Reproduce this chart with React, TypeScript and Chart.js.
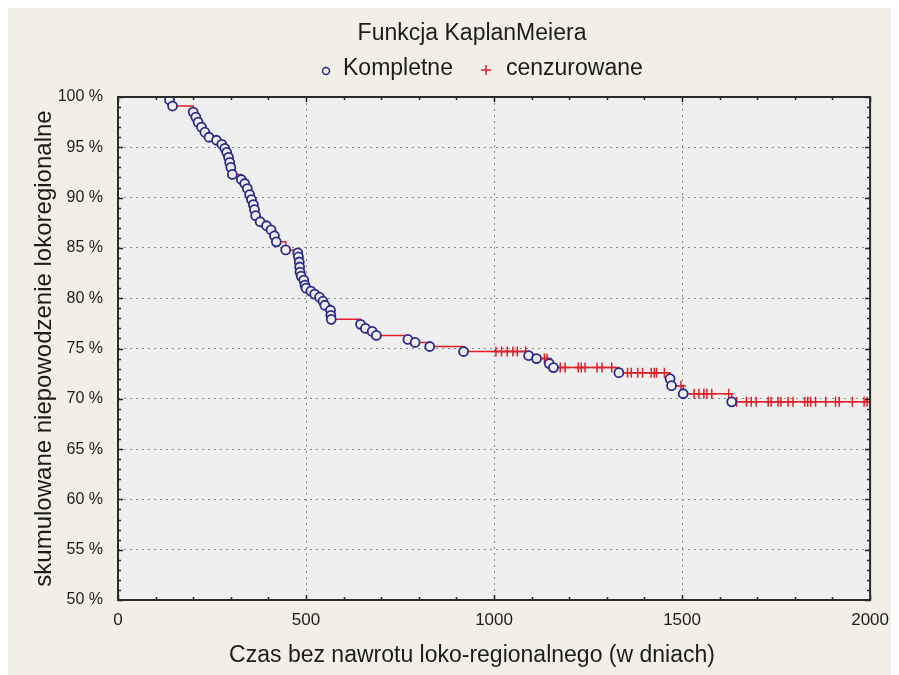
import React, { useEffect, useRef } from 'react';
import { Chart, registerables } from 'chart.js';

Chart.register(...registerables);

// Kaplan-Meier events (complete observations): time in days, cumulative proportion (%)
const eventTimes = [137, 145, 200, 207, 213, 222, 231, 242, 262, 276, 284, 289, 294, 297, 300, 304, 328, 337, 344, 350, 355, 360, 363, 366, 378, 395, 407, 416, 421, 446, 478, 480, 482, 483, 484, 487, 494, 497, 500, 513, 523, 536, 545, 550, 565, 566, 567, 645, 658, 676, 687, 771, 790, 829, 919, 1092, 1113, 1147, 1158, 1332, 1468, 1472, 1503, 1632];
const eventSurvival = [99.7, 99.1, 98.5, 98.0, 97.5, 97.0, 96.5, 96.0, 95.7, 95.3, 94.9, 94.5, 94.0, 93.5, 93.0, 92.3, 91.8, 91.4, 90.9, 90.3, 89.8, 89.3, 88.8, 88.2, 87.6, 87.2, 86.8, 86.2, 85.6, 84.8, 84.5, 84.1, 83.6, 83.1, 82.6, 82.2, 81.8, 81.3, 81.0, 80.7, 80.4, 80.1, 79.7, 79.3, 78.8, 78.3, 77.9, 77.4, 77.0, 76.7, 76.3, 75.9, 75.6, 75.2, 74.7, 74.3, 74.0, 73.5, 73.1, 72.6, 72.0, 71.3, 70.5, 69.7];

// Censored observations
const censoredTimes = [1005, 1020, 1035, 1050, 1062, 1084, 1134, 1141, 1176, 1189, 1224, 1232, 1242, 1274, 1287, 1313, 1355, 1365, 1382, 1395, 1418, 1426, 1432, 1453, 1497, 1532, 1545, 1558, 1566, 1579, 1624, 1645, 1671, 1684, 1697, 1729, 1737, 1755, 1763, 1782, 1795, 1826, 1834, 1842, 1855, 1882, 1908, 1918, 1953, 1984, 1992];
const censoredSurvival = [74.7, 74.7, 74.7, 74.7, 74.7, 74.7, 74.0, 74.0, 73.1, 73.1, 73.1, 73.1, 73.1, 73.1, 73.1, 73.1, 72.6, 72.6, 72.6, 72.6, 72.6, 72.6, 72.6, 72.6, 71.3, 70.5, 70.5, 70.5, 70.5, 70.5, 70.5, 69.7, 69.7, 69.7, 69.7, 69.7, 69.7, 69.7, 69.7, 69.7, 69.7, 69.7, 69.7, 69.7, 69.7, 69.7, 69.7, 69.7, 69.7, 69.7, 69.7];

const xMin = 0;
const xMax = 2000;
const xMajorStep = 500;
const xMinorStep = 100;
const yMin = 50;
const yMax = 100;
const yMajorStep = 5;
const yMinorStep = 1;

const titleText = 'Funkcja KaplanMeiera';
const legendComplete = 'Kompletne';
const legendCensored = 'cenzurowane';
const xTitle = 'Czas bez nawrotu loko-regionalnego (w dniach)';
const yTitle = 'skumulowane niepowodzenie lokoregionalne';

const FONT = "'Liberation Sans', Arial, sans-serif";
const TEXT = '#1c1c1c';
const NAVY = '#2b2a8c';
const RED = '#e1202a';
const PLOT_BG = '#efefef';
const OUTER_BG = '#f2efe6';

const decor = {
  id: 'decor',
  beforeDraw(chart: any) {
    const { ctx, chartArea: a } = chart;
    ctx.save();
    ctx.fillStyle = PLOT_BG;
    ctx.fillRect(a.left, a.top, a.right - a.left, a.bottom - a.top);
    ctx.restore();
  },
  afterDatasetsDraw(chart: any) {
    const { ctx, chartArea: a, scales } = chart;
    const xs = scales.x;
    const ys = scales.y;
    ctx.save();
    ctx.strokeStyle = '#222';
    ctx.lineWidth = 1.5;
    ctx.beginPath();
    for (let v = xMin; v <= xMax; v += xMinorStep) {
      const px = Math.round(xs.getPixelForValue(v)) + 0.5;
      const len = v % xMajorStep === 0 ? 5 : 3;
      ctx.moveTo(px, a.bottom);
      ctx.lineTo(px, a.bottom - len);
      ctx.moveTo(px, a.top);
      ctx.lineTo(px, a.top + len);
    }
    for (let v = yMin; v <= yMax; v += yMinorStep) {
      const py = Math.round(ys.getPixelForValue(v)) + 0.5;
      const len = v % yMajorStep === 0 ? 5 : 3;
      ctx.moveTo(a.left, py);
      ctx.lineTo(a.left + len, py);
      ctx.moveTo(a.right, py);
      ctx.lineTo(a.right - len, py);
    }
    ctx.stroke();
    ctx.lineWidth = 2;
    ctx.strokeStyle = '#2a2a2a';
    ctx.strokeRect(a.left, a.top, a.right - a.left, a.bottom - a.top);
    ctx.restore();
  },
  afterDraw(chart: any) {
    const { ctx } = chart;
    ctx.save();
    ctx.fillStyle = TEXT;
    ctx.textBaseline = 'middle';
    ctx.font = `23px ${FONT}`;
    ctx.textAlign = 'center';
    ctx.fillText(titleText, 464, 26);
    ctx.fillText(xTitle, 464, 648);
    // legend
    ctx.textAlign = 'left';
    ctx.fillText(legendComplete, 335, 61);
    ctx.fillText(legendCensored, 498, 61);
    ctx.strokeStyle = NAVY;
    ctx.lineWidth = 1.5;
    ctx.beginPath();
    ctx.arc(318, 63, 3.5, 0, Math.PI * 2);
    ctx.stroke();
    ctx.strokeStyle = RED;
    ctx.beginPath();
    ctx.moveTo(473, 62);
    ctx.lineTo(483, 62);
    ctx.moveTo(478, 57);
    ctx.lineTo(478, 67);
    ctx.stroke();
    ctx.restore();
  },
};

export default function App() {
  const ref = useRef<HTMLCanvasElement | null>(null);

  useEffect(() => {
    const canvas = ref.current;
    if (!canvas) return;

    const eventPts = eventTimes.map((t, i) => ({ x: t, y: eventSurvival[i] }));
    const censPts = censoredTimes.map((t, i) => ({ x: t, y: censoredSurvival[i] }));
    const linePts = [
      { x: xMin, y: yMax },
      ...eventPts,
      { x: xMax, y: eventSurvival[eventSurvival.length - 1] },
    ];

    const chart = new Chart(canvas, {
      type: 'scatter',
      data: {
        datasets: [
          {
            label: legendComplete,
            data: eventPts,
            pointStyle: 'circle',
            pointRadius: 4.5,
            pointBorderWidth: 1.8,
            pointBorderColor: NAVY,
            pointBackgroundColor: PLOT_BG,
            showLine: false,
            order: 0,
          },
          {
            label: legendCensored,
            data: censPts,
            pointStyle: 'cross',
            pointRadius: 5,
            pointBorderWidth: 1.5,
            pointBorderColor: RED,
            pointBackgroundColor: RED,
            showLine: false,
            order: 1,
          },
          {
            label: 'KM',
            data: linePts,
            showLine: true,
            stepped: 'before',
            borderColor: RED,
            borderWidth: 1.5,
            pointRadius: 0,
            fill: false,
            order: 2,
          } as any,
        ],
      },
      options: {
        responsive: false,
        animation: false,
        events: [],
        layout: { padding: { left: 0, top: 89, right: 21, bottom: 0 } },
        plugins: {
          legend: { display: false },
          title: { display: false },
          tooltip: { enabled: false },
        },
        scales: {
          x: {
            type: 'linear',
            min: xMin,
            max: xMax,
            afterFit: (s: any) => {
              s.height = 75;
            },
            ticks: {
              stepSize: xMajorStep,
              font: { family: FONT, size: 17 },
              color: TEXT,
              padding: 10,
              maxRotation: 0,
              callback: (v: any) => String(v),
            },
            grid: {
              color: '#8a8a8a',
              lineWidth: 1,
              drawTicks: false,
            },
            border: { display: false, dash: [2, 4] },
          },
          y: {
            type: 'linear',
            min: yMin,
            max: yMax,
            afterFit: (s: any) => {
              s.width = 110;
            },
            ticks: {
              stepSize: yMajorStep,
              font: { family: FONT, size: 16 },
              color: TEXT,
              padding: 15,
              callback: (v: any) => `${v} %`,
            },
            grid: {
              color: '#8a8a8a',
              lineWidth: 1,
              drawTicks: false,
            },
            border: { display: false, dash: [2, 4] },
            title: {
              display: true,
              text: yTitle,
              font: { family: FONT, size: 24 },
              color: TEXT,
              padding: { top: 22, bottom: 0 },
            },
          },
        },
      },
      plugins: [decor],
    });

    return () => chart.destroy();
  }, []);

  return (
    <div style={{ width: 891, height: 667, background: OUTER_BG }}>
      <canvas ref={ref} width={891} height={667} style={{ display: 'block' }} />
    </div>
  );
}
